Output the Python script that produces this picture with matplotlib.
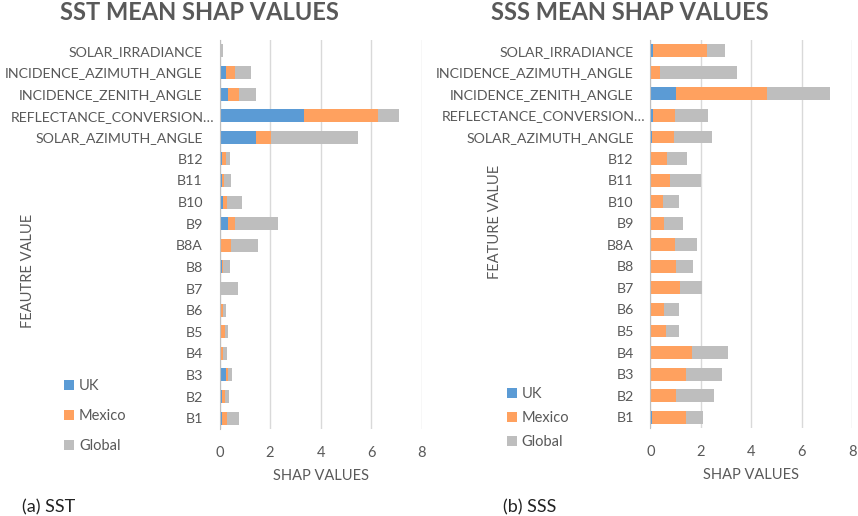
import matplotlib
matplotlib.use("Agg")
import matplotlib.pyplot as plt
import matplotlib.transforms as mtransforms
import numpy as np

plt.rcParams['font.family'] = ['Lato', 'DejaVu Sans']

features = ["B1", "B2", "B3", "B4", "B5", "B6", "B7", "B8", "B8A", "B9", "B10",
            "B11", "B12", "SOLAR_AZIMUTH_ANGLE", "REFLECTANCE_CONVERSION\u2026",
            "INCIDENCE_ZENITH_ANGLE", "INCIDENCE_AZIMUTH_ANGLE", "SOLAR_IRRADIANCE"]
# one list per series, ordered as 'features' (bottom to top)
sst_uk     = [0.08, 0.09, 0.24, 0.04, 0.05, 0.04, 0.01, 0.08, 0.05, 0.32, 0.15, 0.08, 0.09, 1.44, 3.34, 0.32, 0.25, 0.02]
sst_mexico = [0.20, 0.11, 0.09, 0.08, 0.15, 0.11, 0.06, 0.05, 0.40, 0.30, 0.15, 0.08, 0.15, 0.61, 2.92, 0.45, 0.37, 0.03]
sst_global = [0.50, 0.16, 0.15, 0.17, 0.13, 0.11, 0.66, 0.28, 1.06, 1.69, 0.58, 0.28, 0.18, 3.42, 0.84, 0.67, 0.63, 0.08]

sss_uk     = [0.08, 0.01, 0.02, 0.01, 0.01, 0.01, 0.01, 0.01, 0.01, 0.01, 0.01, 0.01, 0.01, 0.08, 0.12, 1.02, 0.01, 0.11]
sss_mexico = [1.33, 1.02, 1.41, 1.64, 0.61, 0.55, 1.17, 1.00, 0.98, 0.55, 0.48, 0.77, 0.65, 0.87, 0.86, 3.59, 0.38, 2.14]
sss_global = [0.66, 1.50, 1.41, 1.41, 0.53, 0.59, 0.87, 0.67, 0.86, 0.73, 0.63, 1.21, 0.78, 1.49, 1.32, 2.52, 3.05, 0.69]

series_names = ["UK", "Mexico", "Global"]
colors = ["#5B9BD5", "#FFA15F", "#BEBEBE"]
xticks = [0, 2, 4, 6, 8]

W, H = 858, 516
fig = plt.figure(figsize=(W / 100, H / 100), dpi=100)
TXT = "#595959"

def px_axes(x0, x1, ytop, ybot):
    return fig.add_axes([x0 / W, 1 - ybot / H, (x1 - x0) / W, (ybot - ytop) / H])

def draw(ax, uk, mx, gl, ylabel, ylab_pos, title, title_x, leg_y, leg_sp, caption, cap_x):
    y = np.arange(len(features))
    left = np.zeros(len(features))
    handles = []
    for vals, c, name in zip([uk, mx, gl], colors, series_names):
        vals = np.array(vals)
        h = ax.barh(y, vals, left=left, height=0.6, color=c, label=name, zorder=3)
        handles.append(h)
        left = left + vals
    ax.set_xlim(0, 8)
    ax.set_ylim(-0.5, len(features) - 0.5)
    ax.set_xticks(xticks)
    ax.set_xticklabels([str(t) for t in xticks])
    ax.set_yticks(y)
    ax.set_yticklabels(features)
    ax.tick_params(axis='both', length=0, colors=TXT, labelsize=10.5)
    ax.tick_params(axis='y', pad=12, labelsize=10.2)
    ax.tick_params(axis='x', pad=12)
    ax.grid(axis='x', color='#D9D9D9', linewidth=1, zorder=0)
    for s in ['top', 'right', 'bottom']:
        ax.spines[s].set_visible(False)
    ax.spines['left'].set_color('#BFBFBF')
    ax.spines['left'].set_zorder(4)
    ax.set_xlabel("SHAP VALUES", color=TXT, fontsize=10.5, labelpad=7)
    # shift the long truncated label slightly to the right
    lbl = ax.get_yticklabels()[14]
    lbl.set_transform(lbl.get_transform() + mtransforms.ScaledTranslation(12 / 100, 0, fig.dpi_scale_trans))
    fig.text(ylab_pos[0] / W, 1 - ylab_pos[1] / H, ylabel, rotation=90, color=TXT,
             fontsize=10.5, ha='center', va='center')
    fig.text(title_x / W, 1 - 13 / H, title, color=TXT, fontsize=17, fontweight='bold',
             ha='center', va='center')
    fig.legend(handles, series_names, loc='center left',
               bbox_to_anchor=(leg_y[0] / W, 1 - leg_y[1] / H), bbox_transform=fig.transFigure,
               frameon=False, fontsize=10.5, handlelength=0.65, handleheight=0.65,
               handletextpad=0.35, labelspacing=leg_sp, labelcolor=TXT, borderpad=0)
    fig.text(cap_x / W, 1 - 507 / H, caption, color='#222222', fontsize=13, ha='left', va='center')

ax1 = px_axes(219.5, 421.7, 40, 429)
draw(ax1, sst_uk, sst_mexico, sst_global, "FEAUTRE VALUE", (28, 271),
     "SST MEAN SHAP VALUES", 199, (57, 416), 1.1, "(a) SST", 22)

ax2 = px_axes(650.3, 852.3, 40, 428)
draw(ax2, sss_uk, sss_mexico, sss_global, "FEATURE VALUE", (495, 222),
     "SSS MEAN SHAP VALUES", 630, (500, 418), 0.7, "(b) SSS", 503)

fig.savefig("out.png", dpi=100)
